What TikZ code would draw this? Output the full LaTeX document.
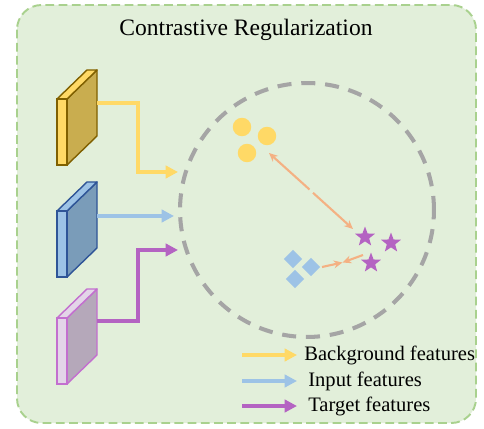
\documentclass[tikz,border=0pt]{standalone}
\usepackage{fontspec}
\setmainfont{Liberation Serif}
\usetikzlibrary{arrows.meta,shapes.geometric}

\definecolor{panelbg}{HTML}{E2EFDA}
\definecolor{panelln}{HTML}{A9D18E}
\definecolor{ringln}{HTML}{A5A5A5}
\definecolor{ylwfront}{HTML}{FFD966}
\definecolor{ylwside}{HTML}{C9AD4F}
\definecolor{ylwline}{HTML}{806000}
\definecolor{blufront}{HTML}{9DC3E6}
\definecolor{bluside}{HTML}{7A9CB9}
\definecolor{bluline}{HTML}{2F5597}
\definecolor{pnkfront}{HTML}{E3D5E8}
\definecolor{pnkside}{HTML}{B5A8BA}
\definecolor{pnkline}{HTML}{C36FCF}
\definecolor{purp}{HTML}{B463C2}
\definecolor{orng}{HTML}{F4B183}

% feature map: top of front face, bottom of front face, front, side, outline
\newcommand\featblock[5]{
\filldraw[draw=#5, fill=#4, line width=0.8pt, line join=round]
  (67,#1) -- (97,{#1-29}) -- (97,{#2-29}) -- (67,#2) -- cycle;
\filldraw[draw=#5, fill=#3, line width=0.8pt, line join=round]
  (57,#1) -- (87,{#1-29}) -- (97,{#1-29}) -- (67,#1) -- cycle;
\filldraw[draw=#5, fill=#3, line width=0.8pt]
  (57,#1) rectangle (67,#2);
}

\begin{document}
\begin{tikzpicture}[x=0.02cm, y=-0.02cm,
  feat/.style={line width=2pt, -{Triangle[length=7pt, width=7pt]}},
  pull/.style={line width=1.2pt, orng, -{Stealth[length=5pt, width=4.5pt]}},
  dot/.style={circle, fill=ylwfront, minimum size=0.37cm, inner sep=0pt},
  tgt/.style={star, star points=5, star point ratio=2.4, fill=purp, minimum size=0.42cm, inner sep=0pt},
  inp/.style={diamond, fill=blufront, minimum size=0.37cm, inner sep=0pt},
  legend/.style={anchor=west, inner sep=0pt, font=\fontsize{11.7}{13}\selectfont}]
\useasboundingbox (0,0) rectangle (484,429);

% panel
\filldraw[fill=panelbg, draw=panelln, line width=1.1pt, dash pattern=on 5pt off 2.5pt,
  rounded corners=14pt] (17,5) rectangle (476,423);
\node (title) at (246,30) {\fontsize{13.4}{15}\selectfont Contrastive Regularization};

% feature maps
\featblock{99}{165}{ylwfront}{ylwside}{ylwline}
\featblock{211}{277}{blufront}{bluside}{bluline}
\featblock{318}{384}{pnkfront}{pnkside}{pnkline}

% embedding space
\draw[ringln, line width=2.3pt, dash pattern=on 8pt off 5.6pt] (307,210) circle (2.54cm);

\coordinate (ysrc) at (97,103);
\coordinate (ytip) at (178,172);
\coordinate (bsrc) at (97,216);
\coordinate (btip) at (174,216);
\coordinate (psrc) at (97,321);
\coordinate (ptip) at (178,250);
\draw[feat, ylwfront] (ysrc) -| (138,172) -- (ytip);
\draw[feat, blufront] (bsrc) -- (btip);
\draw[feat, purp] (psrc) -| (138,250) -- (ptip);

\node[dot] (d1) at (242,127) {};
\node[dot] (d2) at (267,136) {};
\node[dot] (d3) at (247,153) {};
\node[tgt] (s1) at (365,237) {};
\node[tgt] (s2) at (391,243) {};
\node[tgt] (s3) at (371,263) {};
\node[inp] (q1) at (293,259) {};
\node[inp] (q2) at (311,267) {};
\node[inp] (q3) at (295,279) {};

% push / pull
\coordinate (farA) at (269,153);
\coordinate (farB) at (353,229);
\coordinate (gapA) at (309.5,189.5);
\coordinate (gapB) at (313,192.8);
\draw[pull] (gapA) -- (farA);
\draw[pull] (gapB) -- (farB);
\coordinate (nearA) at (322,267);
\coordinate (nearB) at (363,255);
\coordinate (meet) at (342.5,262.5);
\draw[pull] (nearA) -- (meet);
\draw[pull] (nearB) -- (meet);

% legend
\coordinate (lg1a) at (242,355);
\coordinate (lg1b) at (297,355);
\coordinate (lg2a) at (242,381);
\coordinate (lg2b) at (297,381);
\coordinate (lg3a) at (242,406);
\coordinate (lg3b) at (297,406);
\draw[feat, ylwfront] (lg1a) -- (lg1b);
\draw[feat, blufront] (lg2a) -- (lg2b);
\draw[feat, purp] (lg3a) -- (lg3b);
\node[legend] (lgbg) at (304,355) {Background features};
\node[legend] (lgin) at (308,381) {Input features};
\node[legend] (lgtg) at (308,406) {Target features};
\end{tikzpicture}
\end{document}
